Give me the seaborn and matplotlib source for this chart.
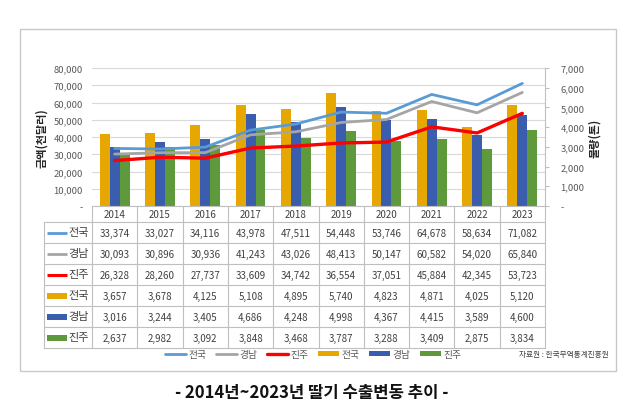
import numpy as np
import pandas as pd
import matplotlib
matplotlib.use("Agg")
import matplotlib.pyplot as plt
from matplotlib.lines import Line2D
from matplotlib.patches import Patch, Rectangle
import seaborn as sns

years = [2014, 2015, 2016, 2017, 2018, 2019, 2020, 2021, 2022, 2023]
regions = ["전국", "경남", "진주"]

# 금액(천달러) - lines
amt_national = [33374, 33027, 34116, 43978, 47511, 54448, 53746, 64678, 58634, 71082]
amt_gyeongnam = [30093, 30896, 30936, 41243, 43026, 48413, 50147, 60582, 54020, 65840]
amt_jinju = [26328, 28260, 27737, 33609, 34742, 36554, 37051, 45884, 42345, 53723]

# 물량(톤) - bars
qty_national = [3657, 3678, 4125, 5108, 4895, 5740, 4823, 4871, 4025, 5120]
qty_gyeongnam = [3016, 3244, 3405, 4686, 4248, 4998, 4367, 4415, 3589, 4600]
qty_jinju = [2637, 2982, 3092, 3848, 3468, 3787, 3288, 3409, 2875, 3834]

line_colors = ["#5B9BD5", "#A5A5A5", "#FF0000"]
bar_colors = ["#E6A800", "#3A5DAE", "#5E9A3C"]

sns.set_style("white")
plt.rcParams["font.family"] = ["Noto Sans CJK KR", "DejaVu Sans"]

W, H = 636, 410
fig = plt.figure(figsize=(W / 100, H / 100), dpi=100)

# plot area in pixels
px0, px1, py0, py1 = 92, 545, 69, 207
rect = [px0 / W, 1 - py1 / H, (px1 - px0) / W, (py1 - py0) / H]

axg = fig.add_axes(rect, zorder=0)
ax = fig.add_axes(rect, zorder=2, sharex=axg)
axr = ax.twinx()
axr.set_zorder(1)
ax.patch.set_visible(False)
axr.patch.set_visible(False)

n = len(years)
idx = np.arange(n)

# grid (behind bars)
axg.set_ylim(0, 80000)
axg.set_yticks(np.arange(0, 80001, 10000))
axg.yaxis.grid(True, color="#D9D9D9", lw=0.8)
axg.tick_params(left=False, labelleft=False, bottom=False, labelbottom=False)
for s in axg.spines.values():
    s.set_visible(False)

# bars
bars = pd.DataFrame({
    "year": [str(y) for y in years] * 3,
    "region": np.repeat(regions, n),
    "qty": qty_national + qty_gyeongnam + qty_jinju,
})
sns.barplot(data=bars, x="year", y="qty", hue="region", hue_order=regions,
            palette=bar_colors, saturation=1, width=0.66, gap=0,
            errorbar=None, legend=False, ax=axr, linewidth=0)

# lines
for vals, c, lw in zip([amt_national, amt_gyeongnam, amt_jinju], line_colors, [2.0, 2.0, 2.4]):
    sns.lineplot(x=idx, y=vals, color=c, lw=lw, ax=ax)

ax.set_xlim(-0.5, n - 0.5)
ax.set_ylim(0, 80000)
ax.set_yticks(np.arange(0, 80001, 10000))
ax.set_yticklabels(["-"] + [f"{v:,}" for v in range(10000, 80001, 10000)])
axr.set_ylim(0, 7000)
axr.set_yticks(np.arange(0, 7001, 1000))
axr.set_yticklabels(["-"] + [f"{v:,}" for v in range(1000, 7001, 1000)])

for a in (ax, axr):
    a.set_xlabel("")
    a.set_ylabel("")
    a.tick_params(bottom=False, labelbottom=False)
    for s in a.spines.values():
        s.set_visible(False)
ax.tick_params(axis="y", left=False, labelsize=6.8, labelcolor="#595959", pad=3)
axr.tick_params(axis="y", right=True, length=3, color="#BFBFBF", labelsize=6.8,
                labelcolor="#595959", pad=8)
axr.spines["right"].set_visible(True)
axr.spines["right"].set_color("#BFBFBF")

ax.set_ylabel("금액(천달러)", fontsize=8, fontweight="bold", color="#262626", labelpad=4)
axr.set_ylabel("물량(톤)", fontsize=8, fontweight="bold", color="#262626", rotation=90, labelpad=3)

# overlay in pixel coordinates for table, frame, title
fa = fig.add_axes([0, 0, 1, 1], zorder=5)
fa.set_xlim(0, W)
fa.set_ylim(H, 0)
fa.axis("off")
fa.patch.set_visible(False)

fa.add_patch(Rectangle((20, 30), 596, 342, fill=False, ec="#C8C8C8", lw=1))

gc = "#BFBFBF"
cw = (px1 - px0) / n
hdr_top, hdr_bot = py1, 223
row_h = 21
rows_txt = [amt_national, amt_gyeongnam, amt_jinju, qty_national, qty_gyeongnam, qty_jinju]
tab_bot = hdr_bot + row_h * len(rows_txt)
lab_x0 = 44

# horizontal lines
fa.plot([px0, px1], [hdr_top, hdr_top], color=gc, lw=0.8)
for r in range(len(rows_txt) + 1):
    yy = hdr_bot + r * row_h
    fa.plot([lab_x0, px1], [yy, yy], color=gc, lw=0.8)
# vertical lines
fa.plot([lab_x0, lab_x0], [hdr_bot, tab_bot], color=gc, lw=0.8)
for k in range(n + 1):
    xx = px0 + k * cw
    fa.plot([xx, xx], [hdr_top, tab_bot], color=gc, lw=0.8)

tc = "#404040"
for k, y in enumerate(years):
    fa.text(px0 + (k + 0.5) * cw, (hdr_top + hdr_bot) / 2, str(y), ha="center",
            va="center", fontsize=7, color=tc)
for r, vals in enumerate(rows_txt):
    yc = hdr_bot + (r + 0.5) * row_h
    for k, v in enumerate(vals):
        fa.text(px0 + (k + 0.5) * cw, yc, f"{v:,}", ha="center", va="center",
                fontsize=7, color=tc)
    lab = regions[r % 3]
    if r < 3:
        fa.plot([47, 67], [yc, yc], color=line_colors[r], lw=2 if r < 2 else 2.2,
                solid_capstyle="butt")
    else:
        fa.add_patch(Rectangle((47, yc - 3), 20, 6, color=bar_colors[r - 3], lw=0))
    fa.text(68, yc, lab, ha="left", va="center", fontsize=8, color=tc)

# legend
handles = [Line2D([], [], color=c, lw=2) for c in line_colors[:2]]
handles += [Line2D([], [], color=line_colors[2], lw=2.4)]
handles += [Patch(color=c, lw=0) for c in bar_colors]
leg = fig.legend(handles, regions + regions, loc="center", ncol=6,
                 bbox_to_anchor=(313 / W, 1 - 355 / H), frameon=False,
                 fontsize=7, handlelength=2.2, handleheight=0.5, handletextpad=0.2,
                 columnspacing=1.0, labelcolor="#595959")

fa.text(564, 355, "자료원 : 한국무역통계진흥원", ha="center", va="center",
        fontsize=5.5, color="#404040")

fa.text(312, 393, "- 2014년~2023년 딸기 수출변동 추이 -", ha="center", va="center",
        fontsize=12, fontweight="bold", color="#111111")

fig.savefig("out.png", dpi=100)
